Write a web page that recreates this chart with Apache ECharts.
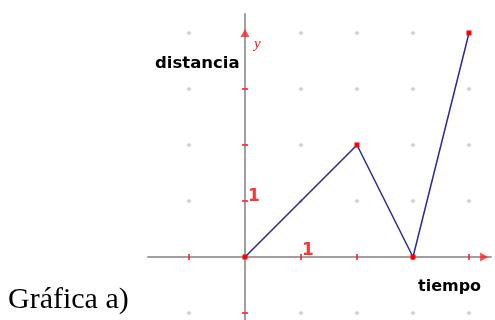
<!DOCTYPE html>
<html lang="es">
<head>
<meta charset="UTF-8">
<title>Gráfica a)</title>
<script src="https://cdn.jsdelivr.net/npm/echarts@6/dist/echarts.min.js"></script>
<style>
  html, body { margin: 0; padding: 0; background: #fff; }
  #main { width: 495px; height: 320px; }
</style>
</head>
<body>
<div id="main"></div>
<script>
    // datos de la gráfica (tiempo, distancia)
    var tiempo = [0, 2, 3, 4];
    var distancia = [0, 2, 0, 4];

    // marcas de la cuadrícula y de los ejes
    var gridX = [-1, 1, 2, 3, 4];
    var gridY = [-1, 1, 2, 3, 4];
    var tickX = [-1, 1, 2, 3, 4];
    var tickY = [-1, 1, 2, 3];

    var puntos = tiempo.map(function (t, i) { return [t, distancia[i]]; });

    var malla = [];
    gridX.forEach(function (x) {
        gridY.forEach(function (y) { malla.push([x, y]); });
    });

    var myChart = echarts.init(document.getElementById('main'));

    var option = {
        animation: false,
        grid: {left: 148, right: 4, top: 14, bottom: 0},
        xAxis: {
            type: 'value', min: -1.732, max: 4.393,
            axisLine: {onZero: true, lineStyle: {color: '#a0a0a0', width: 2}},
            axisTick: {show: false}, axisLabel: {show: false}, splitLine: {show: false}
        },
        yAxis: {
            type: 'value', min: -1.125, max: 4.339,
            axisLine: {onZero: true, lineStyle: {color: '#a0a0a0', width: 2}},
            axisTick: {show: false}, axisLabel: {show: false}, splitLine: {show: false}
        },
        series: [
            {
                // puntos de la cuadrícula
                type: 'scatter', data: malla, symbol: 'diamond', symbolSize: 5,
                itemStyle: {color: '#c8c8c8'}, silent: true
            },
            {
                type: 'scatter', symbol: 'rect', symbolSize: [2, 6],
                data: tickX.map(function (x) { return [x, 0]; }),
                itemStyle: {color: '#ff2020'}, silent: true
            },
            {
                type: 'scatter', symbol: 'rect', symbolSize: [6, 2],
                data: tickY.map(function (y) { return [0, y]; }),
                itemStyle: {color: '#ff2020'}, silent: true
            },
            {
                // flechas de los ejes
                type: 'scatter', symbol: 'triangle', symbolSize: [9, 8],
                data: [
                    {value: [0, 4], symbolRotate: 0},
                    {value: [4.27, 0], symbolRotate: -90}
                ],
                itemStyle: {color: '#ff2020'}, silent: true
            },
            {
                // etiquetas "1"
                type: 'scatter', symbolSize: 0, silent: true,
                data: [
                    {value: [1, 0], label: {offset: [7, -6]}},
                    {value: [0, 1], label: {offset: [9, -4]}}
                ],
                label: {
                    show: true, position: 'inside', formatter: '1',
                    color: '#ff0000', fontSize: 17, fontWeight: 'bold',
                    fontFamily: 'DejaVu Sans'
                }
            },
            {
                type: 'line', data: puntos, symbol: 'rect', symbolSize: 5,
                lineStyle: {color: '#2a2aa0', width: 1.5},
                itemStyle: {color: '#ff0000'}
            }
        ],
        graphic: [
            {type: 'text', left: 155, top: 55, style: {text: 'distancia', fill: '#000', font: 'bold 16.5px "DejaVu Sans"'}},
            {type: 'text', left: 418, top: 279, style: {text: 'tiempo', fill: '#000', font: 'bold 16px "DejaVu Sans"'}},
            {type: 'text', left: 254, top: 37, style: {text: 'y', fill: '#ff1010', font: 'italic 15px "Liberation Serif"'}},
            {type: 'text', left: 8, top: 285, style: {text: 'Gráfica a)', fill: '#000', font: '30px "Liberation Serif"'}}
        ]
    };

    myChart.setOption(option);
</script>
</body>
</html>
